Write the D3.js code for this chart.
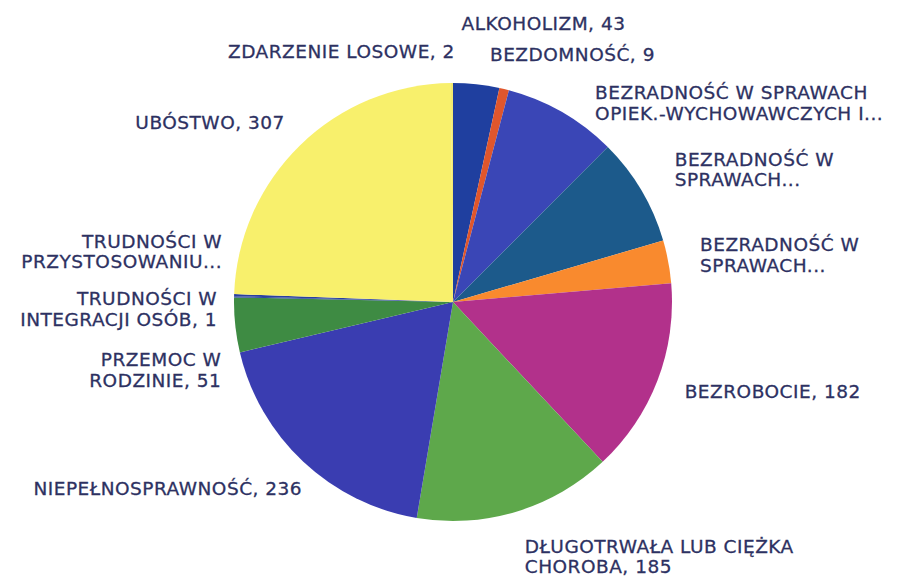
<!DOCTYPE html>
<html>
<head>
<meta charset="utf-8">
<script src="https://cdn.jsdelivr.net/npm/d3@7"></script>
<style>
  html, body { margin: 0; padding: 0; background: #fff; }
  svg { display: block; }
</style>
</head>
<body>
<svg id="chart" width="899" height="577"></svg>
<script>
// Kategorie (zgodnie z ruchem wskazówek zegara, od godziny 12)
const categories = [
  "ALKOHOLIZM",
  "BEZDOMNOŚĆ",
  "BEZRADNOŚĆ W SPRAWACH OPIEK.-WYCHOWAWCZYCH I...",
  "BEZRADNOŚĆ W SPRAWACH...",
  "BEZRADNOŚĆ W SPRAWACH...",
  "BEZROBOCIE",
  "DŁUGOTRWAŁA LUB CIĘŻKA CHOROBA",
  "NIEPEŁNOSPRAWNOŚĆ",
  "PRZEMOC W RODZINIE",
  "TRUDNOŚCI W INTEGRACJI OSÓB",
  "TRUDNOŚCI W PRZYSTOSOWANIU...",
  "UBÓSTWO",
  "ZDARZENIE LOSOWE"
];

const values = [43, 9, 106, 101, 40, 182, 185, 236, 51, 1, 2, 307, 2];

// Łamanie etykiet na linie
const labelLines = [
  ["ALKOHOLIZM, 43"],
  ["BEZDOMNOŚĆ, 9"],
  ["BEZRADNOŚĆ W SPRAWACH", "OPIEK.-WYCHOWAWCZYCH I..."],
  ["BEZRADNOŚĆ W", "SPRAWACH..."],
  ["BEZRADNOŚĆ W", "SPRAWACH..."],
  ["BEZROBOCIE, 182"],
  ["DŁUGOTRWAŁA LUB CIĘŻKA", "CHOROBA, 185"],
  ["NIEPEŁNOSPRAWNOŚĆ, 236"],
  ["PRZEMOC W", "RODZINIE, 51"],
  ["TRUDNOŚCI W", "INTEGRACJI OSÓB, 1"],
  ["TRUDNOŚCI W", "PRZYSTOSOWANIU..."],
  ["UBÓSTWO, 307"],
  ["ZDARZENIE LOSOWE, 2"]
];

const colors = [
  "#1f3f9f", "#e0562c", "#3a46b6", "#1c5a8b", "#f98a2e", "#b2318b",
  "#5ea84b", "#3a3db1", "#3e8b43", "#23409c", "#2a3f9f", "#f8f06c", "#f2ea70"
];

// Przesunięcia etykiet względem punktu na obwodzie (układ "best fit")
const labelNudge = [
  [-16, -49], [-17, -23], [27, 1], [23, -15], [20, -5], [16, 6],
  [5, 33], [7, 17], [-2, 43], [-5, 12], [0, -44], [-7, -15], [3, -20]
];

const cx = 453, cy = 302, radius = 219;
const labelRadius = radius + 12;
const lineHeight = 20.5;

const svg = d3.select("#chart");
const g = svg.append("g").attr("transform", `translate(${cx},${cy})`);

const data = categories.map((c, i) => ({ name: c, value: values[i], i }));

const pie = d3.pie().value(d => d.value).sort(null);
const arc = d3.arc().innerRadius(0).outerRadius(radius);
const arcs = pie(data);

// Wycinki
g.selectAll("path.slice")
  .data(arcs)
  .enter()
  .append("path")
  .attr("class", "slice")
  .attr("d", arc)
  .attr("fill", d => colors[d.data.i]);

// Etykiety
g.selectAll("text.lbl")
  .data(arcs)
  .enter()
  .append("text")
  .attr("class", "lbl")
  .attr("font-family", "'DejaVu Sans', sans-serif")
  .attr("font-size", 18.5)
  .attr("letter-spacing", 0.5)
  .attr("fill", "#2d3162")
  .attr("stroke", "#2d3162")
  .attr("stroke-width", 0.3)
  .each(function (d) {
    const mid = (d.startAngle + d.endAngle) / 2;
    const side = mid < Math.PI ? "start" : "end";
    const [nx, ny] = labelNudge[d.data.i];
    const x = Math.sin(mid) * labelRadius + nx;
    const yc = -Math.cos(mid) * labelRadius + ny;
    const lines = labelLines[d.data.i];
    const t = d3.select(this).attr("text-anchor", side);
    lines.forEach((ln, k) => {
      t.append("tspan")
        .attr("x", x)
        .attr("y", yc + (k - (lines.length - 1) / 2) * lineHeight + 7)
        .text(ln);
    });
  });
</script>
</body>
</html>
